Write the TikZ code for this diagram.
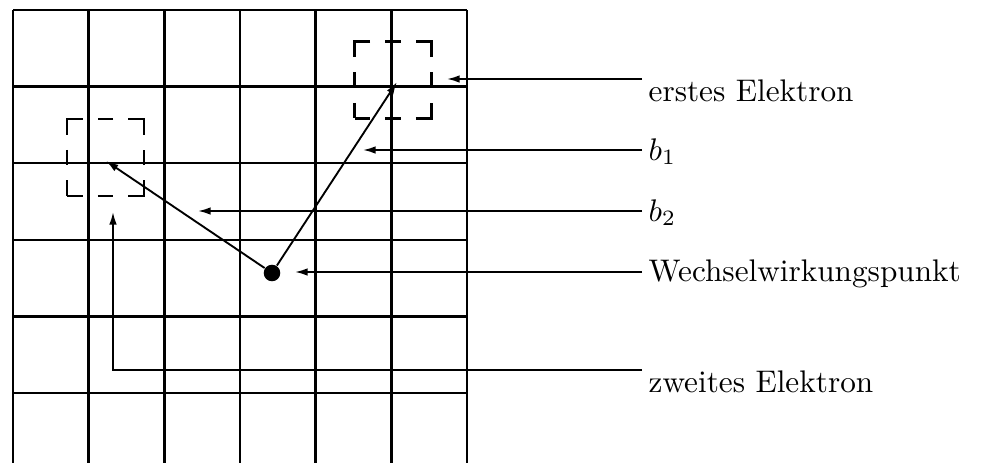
\documentclass[tikz,border=0pt]{standalone}
\usepackage{tikz}
\usetikzlibrary{arrows.meta}

\begin{document}
\begin{tikzpicture}[x=0.32pt,y=-0.32pt,
    gridline/.style={line width=0.8pt},
    window/.style={draw, line width=0.8pt, minimum size=24.5pt, inner sep=0pt,
      dash pattern=on 9.8pt off 4.9pt on 4.9pt off 4.9pt, dash phase=4.9pt},
    track/.style={line width=0.6pt, -{Latex[length=4pt,width=2.4pt]}},
    pointer/.style={line width=0.6pt, -{Latex[length=4pt,width=2.4pt]}},
    caption/.style={anchor=base west, inner sep=0pt}]
  \useasboundingbox (0,0) rectangle (981,463);

  % detector cells
  \foreach \i in {0,...,6} \draw[gridline] ({13+75.67*\i},10) -- ({13+75.67*\i},463);
  \foreach \j in {0,...,5} \draw[gridline] (13,{10+76.6*\j}) -- (467,{10+76.6*\j});

  % search windows and tracks
  \node[window] (winA) at (393,80) {};
  \node[window] (winB) at (105.5,157.5) {};
  \node[circle, fill, inner sep=0pt, minimum size=5.3pt] (vertex) at (272,273) {};
  \coordinate (hitA) at (397,82);
  \coordinate (hitB) at (106,161);
  \draw[track] (vertex) -- (hitA);
  \draw[track] (vertex) -- (hitB);

  % labels
  \node[caption] (lblE) at (648,101) {erstes Elektron};
  \node[caption] (lblB1) at (648,160) {$b_1$};
  \node[caption] (lblB2) at (648,221) {$b_2$};
  \node[caption] (lblW) at (648,281) {Wechselwirkungspunkt};
  \node[caption] (lblZ) at (648,392) {zweites Elektron};

  \coordinate (fromE) at (642,79);  \coordinate (tipE) at (447,79);
  \coordinate (fromB1) at (642,150); \coordinate (tipB1) at (363,150);
  \coordinate (fromB2) at (642,211); \coordinate (tipB2) at (198,211);
  \coordinate (fromW) at (642,272);  \coordinate (tipW) at (295,272);
  \coordinate (fromZ) at (642,370);  \coordinate (tipZ) at (113,212);
  \draw[pointer] (fromE) -- (tipE);
  \draw[pointer] (fromB1) -- (tipB1);
  \draw[pointer] (fromB2) -- (tipB2);
  \draw[pointer] (fromW) -- (tipW);
  \draw[pointer] (fromZ) -| (tipZ);
\end{tikzpicture}
\end{document}
